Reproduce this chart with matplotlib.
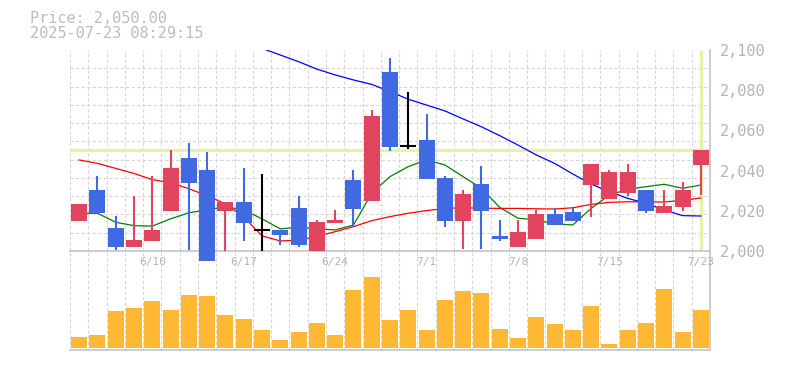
import numpy as np
import matplotlib.pyplot as plt

# 日付 (営業日, 7/21は祝日)
dates = ["6/4", "6/5", "6/6", "6/9", "6/10", "6/11", "6/12", "6/13", "6/16", "6/17",
         "6/18", "6/19", "6/20", "6/23", "6/24", "6/25", "6/26", "6/27", "6/30", "7/1",
         "7/2", "7/3", "7/4", "7/7", "7/8", "7/9", "7/10", "7/11", "7/14", "7/15",
         "7/16", "7/17", "7/18", "7/22", "7/23"]

opens = [2015.0, 2030.3, 2011.4, 2002.1, 2005.1, 2020.0, 2046.3, 2040.3, 2020.0, 2024.4,
         2010.3, 2010.4, 2021.4, 2000.2, 2014.1, 2035.3, 2025.0, 2089.0, 2052.2, 2055.2,
         2036.3, 2015.1, 2033.3, 2007.5, 2002.1, 2006.1, 2018.4, 2019.4, 2033.0, 2026.0,
         2029.0, 2030.3, 2019.1, 2022.0, 2043.0]
highs = [2023.5, 2037.3, 2017.4, 2027.4, 2037.3, 2050.2, 2053.6, 2049.3, 2024.4, 2041.3,
         2038.3, 2010.4, 2027.4, 2015.4, 2020.6, 2040.3, 2070.1, 2096.0, 2079.1, 2068.2,
         2037.3, 2030.3, 2042.3, 2015.4, 2015.4, 2020.4, 2021.4, 2021.4, 2043.3, 2040.3,
         2043.3, 2030.3, 2030.3, 2034.3, 2050.2]
lows = [2015.0, 2019.0, 2000.5, 2002.1, 2005.1, 2020.0, 2000.5, 1995.2, 2000.2, 2005.1,
        2000.2, 2003.1, 2002.1, 2000.2, 2014.1, 2012.1, 2025.0, 2049.9, 2050.9, 2036.0,
        2012.1, 2001.1, 2001.1, 2005.1, 2002.1, 2006.1, 2013.1, 2015.1, 2017.1, 2026.0,
        2027.4, 2019.1, 2019.1, 2020.0, 2028.0]
closes = [2023.4, 2019.0, 2002.1, 2005.5, 2010.4, 2041.3, 2034.0, 1995.2, 2024.4, 2014.0,
          2010.3, 2008.1, 2003.1, 2014.4, 2015.6, 2021.0, 2067.2, 2051.9, 2052.2, 2036.0,
          2015.1, 2028.4, 2020.0, 2006.1, 2009.5, 2018.4, 2013.1, 2015.1, 2043.3, 2039.3,
          2039.3, 2020.0, 2022.4, 2030.3, 2050.0]

# 移動平均 (画像から読んだ値)
ma_short = [2018.7, 2018.8, 2014.3, 2012.6, 2012.4, 2016.0, 2019.0, 2020.5, 2022.0, 2020.5,
            2016.0, 2011.0, 2011.8, 2011.0, 2010.5, 2012.9, 2028.7, 2037.0, 2042.0, 2045.3,
            2042.8, 2037.0, 2031.2, 2021.7, 2016.3, 2015.5, 2013.4, 2013.0, 2021.2, 2027.9,
            2030.7, 2032.0, 2033.2, 2031.2, 2032.8]
ma_mid = [2045.3, 2043.6, 2041.1, 2038.6, 2035.5, 2034.0, 2031.0, 2027.5, 2023.5, 2017.0,
          2007.5, 2005.0, 2005.3, 2007.3, 2009.6, 2012.1, 2015.1, 2017.1, 2018.8, 2020.1,
          2021.2, 2021.5, 2021.3, 2021.2, 2021.2, 2021.0, 2020.9, 2021.5, 2023.2, 2024.2,
          2024.5, 2024.4, 2024.4, 2025.2, 2026.4]
ma_long = [np.nan] * 10 + [2100.8, 2097.5, 2094.2, 2090.5, 2087.6, 2085.1, 2082.9, 2079.3, 2075.5,
                           2072.6, 2069.7, 2065.7, 2061.8, 2057.4, 2052.7, 2047.8, 2043.6, 2038.3,
                           2033.3, 2029.5, 2026.2, 2023.7, 2020.4, 2017.6, 2017.4]

volume = [11, 13, 37, 40, 47, 38, 53, 52, 33, 29, 18, 8, 16, 25, 13, 58, 71, 28, 38, 18,
          48, 57, 55, 19, 10, 31, 24, 18, 42, 4, 18, 25, 59, 16, 38]

price = 2050.0
stamp = "2025-07-23 08:29:15"

plt.rcParams['font.family'] = ['DejaVu Sans Mono']

up_c = '#e2435f'
dn_c = '#4169e1'
grid_c = '#d6d6d6'
txt_c = '#b4b4b4'
hl_c = '#e3f4a6'

n = len(dates)
x = np.arange(n)
w = 0.875

fig = plt.figure(figsize=(7.85, 3.7), dpi=100)
axv = fig.add_axes([70/785, 20/370, 640/785, 99/370])
ax = fig.add_axes([70/785, 119/370, 640/785, 201/370])

# 出来高
axv.bar(x, volume, width=w, color='#ffb833', zorder=3)
axv.set_xlim(-0.5, n - 0.5)
axv.set_ylim(-2, 97)
axv.set_xticks([])
axv.set_xticks(np.arange(-0.5, n, 1), minor=True)
axv.set_yticks([])
axv.tick_params(which='both', length=0)
axv.grid(True, which='minor', axis='x', color=grid_c, linestyle=(0, (3, 2)), linewidth=0.8)
axv.patch.set_visible(False)
for s in ['top', 'left']:
    axv.spines[s].set_visible(False)
for s in ['bottom', 'right']:
    axv.spines[s].set_color('#c4c4c4')
    axv.spines[s].set_linewidth(1.2)

# 価格
ax.set_xlim(-0.5, n - 0.5)
ax.set_ylim(2000, 2100)
ax.set_xticks(np.arange(-0.5, n, 1), minor=True)
ax.set_yticks(2000 + np.arange(12) * 100 / 11, minor=True)
ax.grid(True, which='minor', color=grid_c, linestyle=(0, (3, 2)), linewidth=0.8, zorder=0)
ax.set_axisbelow(True)

ax.axhline(price, color=hl_c, lw=2.4, zorder=1)
ax.plot([n - 1, n - 1], [2001, 2099], color=hl_c, lw=2.4, zorder=1)

ax.plot(x, ma_short, color='green', lw=0.9, zorder=2)
ax.plot(x, ma_mid, color='red', lw=0.9, zorder=2)
ax.plot(x, ma_long, color='blue', lw=0.9, zorder=2)

for i in range(n):
    o, h, l, c = opens[i], highs[i], lows[i], closes[i]
    if c > o:
        col = up_c
    elif c < o:
        col = dn_c
    else:
        col = 'black'
    ax.vlines(x[i], l, h, color=col, lw=1.5, zorder=3, clip_on=False)
    if c == o:
        ax.hlines(c, x[i] - w/2, x[i] + w/2, color=col, lw=1.5, zorder=3)
    else:
        b = ax.bar(x[i], abs(c - o), bottom=min(o, c), width=w, color=col, zorder=4)
        b[0].set_clip_on(False)

ticks = list(range(n - 1, -1, -5))[::-1]
ax.set_xticks(ticks)
ax.set_xticklabels([dates[i] for i in ticks])
ax.yaxis.tick_right()
yt = np.arange(2000, 2101, 20)
ax.set_yticks(yt)
ax.set_yticklabels([f"{v:,}" for v in yt])
ax.tick_params(which='both', length=0)
ax.tick_params(axis='x', pad=4, labelsize=8, labelcolor=txt_c)
ax.tick_params(axis='y', pad=7, labelsize=11, labelcolor=txt_c)
for lbl in ax.get_yticklabels():
    lbl.set_va('center_baseline')
for s in ['top', 'left']:
    ax.spines[s].set_visible(False)
for s in ['bottom', 'right']:
    ax.spines[s].set_color('#c4c4c4')
    ax.spines[s].set_linewidth(1.2)

fig.text(30/785, 1 - 18.5/370, f"Price: {price:,.2f}", fontsize=11, color='#bcbcbc', va='center')
fig.text(30/785, 1 - 33/370, stamp, fontsize=11, color='#bcbcbc', va='center')

fig.savefig('out.png', dpi=100)
